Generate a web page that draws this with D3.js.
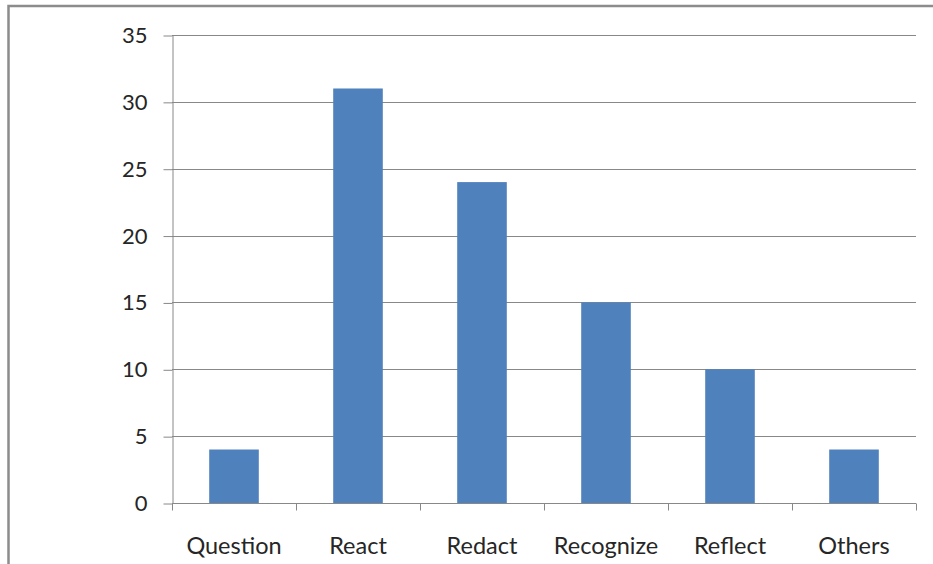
<!DOCTYPE html>
<html>
<head>
<meta charset="utf-8">
<script src="https://cdn.jsdelivr.net/npm/d3@7"></script>
<style>
  html, body { margin: 0; padding: 0; background: #fff; }
  svg { display: block; }
</style>
</head>
<body>
<svg id="chart" width="933" height="564"></svg>
<script>
// Category names and their counts
const categories = ["Question", "React", "Redact", "Recognize", "Reflect", "Others"];
const counts = [4, 31, 24, 15, 10, 4];
const yTicks = [0, 5, 10, 15, 20, 25, 30, 35];

const svg = d3.select("#chart");
const W = 933, H = 564;
const plot = { left: 172, right: 916, top: 35, bottom: 503 };
const font = "Lato, 'Open Sans', sans-serif";

// Outer frame (runs past the right and bottom edges)
svg.append("rect")
  .attr("x", 8.5).attr("y", 6)
  .attr("width", W + 20).attr("height", H + 20)
  .attr("fill", "#fff")
  .attr("stroke", "#8c8c8c").attr("stroke-width", 2.5);

const x = d3.scaleBand().domain(categories).range([plot.left, plot.right]).paddingInner(0).paddingOuter(0);
const y = d3.scaleLinear().domain([0, 35]).range([plot.bottom, plot.top]);

// Horizontal gridlines
svg.append("g").selectAll("line").data(yTicks.filter(d => d > 0)).join("line")
  .attr("x1", plot.left).attr("x2", plot.right)
  .attr("y1", d => Math.round(y(d)) + 0.5).attr("y2", d => Math.round(y(d)) + 0.5)
  .attr("stroke", "#888").attr("stroke-width", 1);

// Bars
const barW = x.bandwidth() * 0.4;
svg.append("g").selectAll("rect").data(categories).join("rect")
  .attr("x", (d) => x(d) + (x.bandwidth() - barW) / 2)
  .attr("width", barW)
  .attr("y", (d, i) => y(counts[i]))
  .attr("height", (d, i) => y(0) - y(counts[i]))
  .attr("fill", "#4f81bd");

// Y axis
const yAxis = d3.axisLeft(y).tickValues(yTicks).tickSize(9).tickPadding(16).tickSizeOuter(0);
const gy = svg.append("g").attr("transform", `translate(${plot.left + 0.5},0.5)`).call(yAxis);
gy.select(".domain").attr("stroke", "#888");
gy.selectAll(".tick line").attr("stroke", "#888");
gy.selectAll(".tick text")
  .attr("font-family", font).attr("font-size", 22).attr("fill", "#262626");

// X axis: tick marks on the band boundaries, labels at the band centres
const xb = d3.scaleLinear().domain([0, categories.length]).range([plot.left, plot.right]);
const gx = svg.append("g").attr("transform", `translate(0,${plot.bottom + 0.5})`);
gx.append("line").attr("x1", plot.left).attr("x2", plot.right)
  .attr("stroke", "#888");
gx.selectAll("line.tk").data(d3.range(categories.length + 1)).join("line")
  .attr("class", "tk")
  .attr("x1", d => Math.round(xb(d)) + 0.5).attr("x2", d => Math.round(xb(d)) + 0.5)
  .attr("y1", 0).attr("y2", 7)
  .attr("stroke", "#888");
gx.selectAll("text").data(categories).join("text")
  .attr("x", d => x(d) + x.bandwidth() / 2)
  .attr("y", 50)
  .attr("text-anchor", "middle")
  .attr("font-family", font).attr("font-size", 23.5).attr("fill", "#262626")
  .text(d => d);
</script>
</body>
</html>
